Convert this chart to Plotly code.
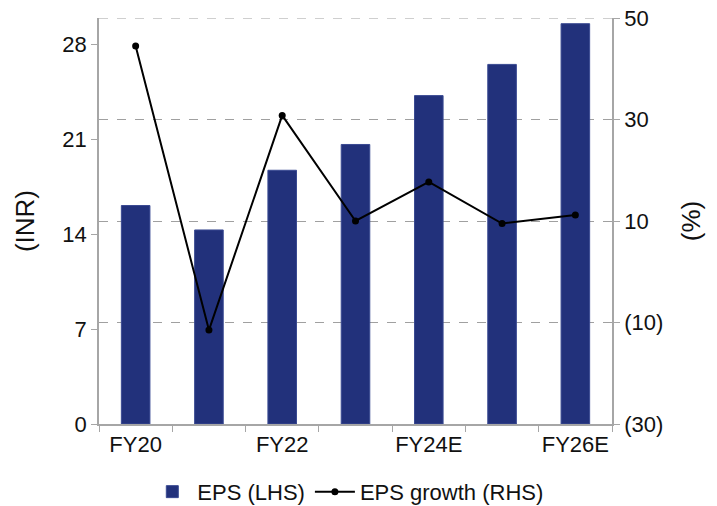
import plotly.graph_objects as go

categories = ["FY20", "FY21", "FY22", "FY23", "FY24E", "FY25E", "FY26E"]
tick_labels = ["FY20", "", "FY22", "", "FY24E", "", "FY26E"]
eps = [16.1, 14.3, 18.7, 20.6, 24.2, 26.5, 29.5]
eps_growth = [44.5, -11.5, 30.8, 10.0, 17.7, 9.5, 11.2]
left_ticks = [0, 7, 14, 21, 28]
right_ticks = [-30, -10, 10, 30, 50]
right_tick_text = ["(30)", "(10)", "10", "30", "50"]

FONT = "Liberation Sans, Arial, sans-serif"
AX = "#A6A6A6"
GRID = "#A0A0A0"

fig = go.Figure()
fig.add_trace(go.Bar(
    x=categories, y=eps, name="EPS (LHS)",
    marker=dict(color="#22317B", line=dict(color="#3A4A92", width=1)),
    width=0.39, yaxis="y",
))
fig.add_trace(go.Scatter(
    x=categories, y=eps_growth, name="EPS growth (RHS)",
    mode="lines+markers",
    line=dict(color="black", width=2),
    marker=dict(color="black", size=7),
    yaxis="y2",
))

# top dashed gridline at the 50 tick of the right axis (plot edge)
fig.add_shape(type="line", xref="paper", x0=0, x1=1, yref="y2",
              y0=right_ticks[-1], y1=right_ticks[-1],
              line=dict(color=GRID, width=1, dash="dash"), layer="below")

fig.update_layout(
    width=717, height=506,
    margin=dict(l=99, r=105, t=18, b=82, autoexpand=False),
    paper_bgcolor="white", plot_bgcolor="white",
    font=dict(family=FONT, size=22, color="#111111"),
    showlegend=True,
    legend=dict(orientation="h", x=0.485, xanchor="center",
                yref="container", y=0.028, yanchor="middle",
                font=dict(size=22), itemwidth=40, tracegroupgap=0),
    xaxis=dict(
        type="category", tickmode="array", tickvals=categories, ticktext=tick_labels,
        tickson="boundaries", ticks="outside", ticklen=6, tickcolor=AX,
        tickangle=0,
        showline=True, linecolor=AX, linewidth=1.5, showgrid=False,
        range=[-0.5, 6.5],
    ),
    yaxis=dict(
        range=[0, 29.92], tickmode="array", tickvals=left_ticks,
        ticks="outside", ticklen=6, tickcolor=AX,
        showline=True, linecolor=AX, linewidth=1.5, showgrid=False, zeroline=False,
        title=dict(text="(INR)", standoff=20),
    ),
    yaxis2=dict(
        range=[-30, 50], overlaying="y", side="right",
        tickmode="array", tickvals=right_ticks, ticktext=right_tick_text,
        ticks="outside", ticklen=6, tickcolor=AX,
        showline=True, linecolor=AX, linewidth=1.5,
        showgrid=True, gridcolor=GRID, griddash="dash", gridwidth=1,
        zeroline=False,
        title=dict(text="(%)", standoff=20),
    ),
)

fig.write_html("out.html")
